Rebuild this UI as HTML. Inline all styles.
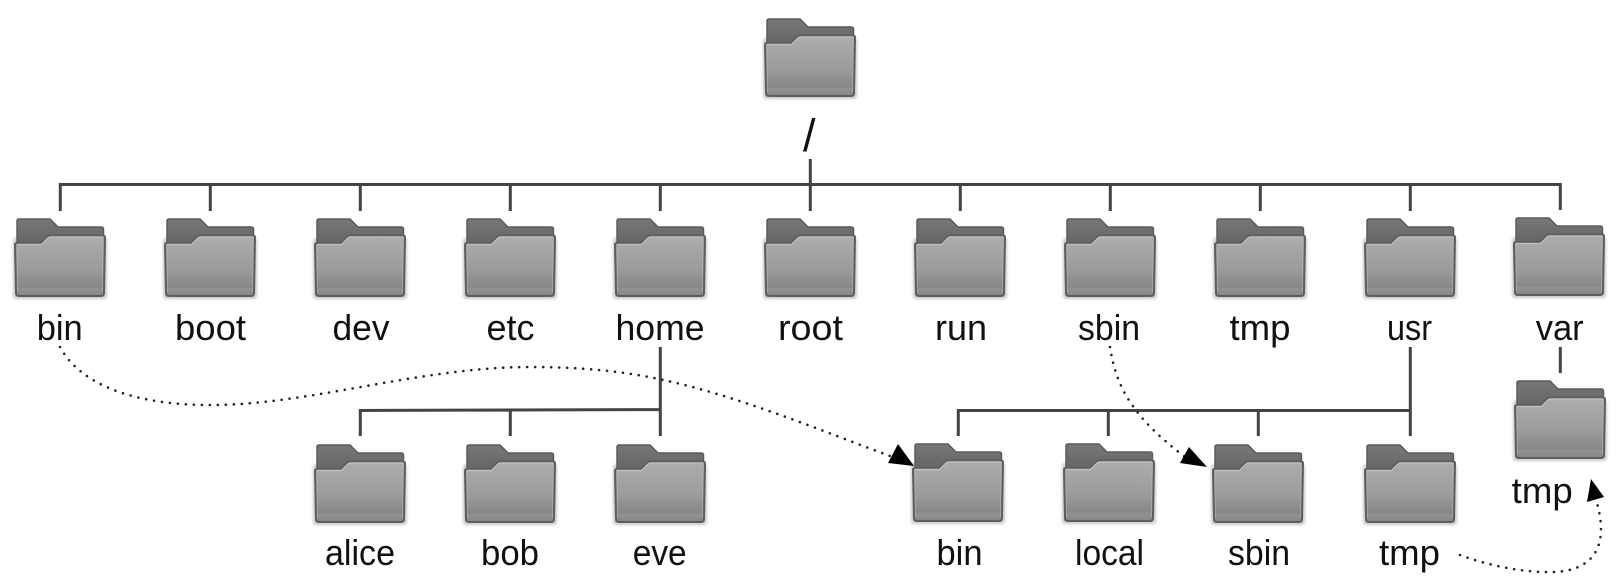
<!DOCTYPE html>
<html><head><meta charset="utf-8"><style>
html,body{margin:0;padding:0;background:#fff}
svg{display:block}
text{font-family:"Liberation Sans",sans-serif;font-size:36px;fill:#111}
</style></head><body>
<svg width="1620" height="587" viewBox="0 0 1620 587" xmlns="http://www.w3.org/2000/svg">
<defs>
<linearGradient id="b" x1="0" y1="0" x2="0" y2="1">
<stop offset="0" stop-color="#adadad"/><stop offset=".55" stop-color="#9c9c9c"/><stop offset=".85" stop-color="#888"/><stop offset=".88" stop-color="#929292"/><stop offset="1" stop-color="#868686"/>
</linearGradient>
<linearGradient id="t" x1="0" y1="0" x2="0" y2="1">
<stop offset="0" stop-color="#777"/><stop offset="1" stop-color="#626262"/>
</linearGradient>
<filter id="s" x="-10%" y="-10%" width="120%" height="120%"><feGaussianBlur stdDeviation="1.2"/></filter>
<g id="f">
<rect x="-1" y="20" width="94" height="61" rx="3" fill="#999" opacity=".5" filter="url(#s)"/>
<path d="M3 3Q3 1 5 1H36L44 9H87Q89.500 9 89.500 11V30H3Z" fill="url(#t)" stroke="#5c5c5c" stroke-width="1.500"/>
<path d="M1 27Q1 25 3 25H27L33 19Q34 17.500 36 17.500H89Q91 17.500 91 19.500L90 75Q90 78 87 78H5Q2 78 2 75Z" fill="url(#b)" stroke="#5e5e5e" stroke-width="2"/>
<path d="M3 26.500H27.500L34 20Q35 19 37 19H89" fill="none" stroke="#bdbdbd" stroke-width="1.400"/>
<path d="M3.500 29V74M88.500 22V74" fill="none" stroke="#b0b0b0" stroke-width="1" opacity=".6"/>
</g>
</defs>
<rect width="1620" height="587" fill="#fff"/>
<use href="#f" x="764" y="18"/>
<use href="#f" x="14" y="218"/><use href="#f" x="164" y="218"/><use href="#f" x="314" y="218"/><use href="#f" x="464" y="218"/><use href="#f" x="614" y="218"/><use href="#f" x="764" y="218"/><use href="#f" x="914" y="218"/><use href="#f" x="1064" y="218"/><use href="#f" x="1214" y="218"/><use href="#f" x="1364" y="218"/><use href="#f" x="1513" y="217"/>
<use href="#f" x="314" y="444"/><use href="#f" x="464" y="444"/><use href="#f" x="614" y="444"/><use href="#f" x="912" y="443"/><use href="#f" x="1063" y="443"/><use href="#f" x="1212" y="444"/><use href="#f" x="1364" y="444"/><use href="#f" x="1514" y="380"/>
<g fill="none" stroke="#444" stroke-width="3">
<path d="M60.300 211V184.500H1560.300V210M210.300 184.500V211M360.300 184.500V211M510.300 184.500V211M660.300 184.500V211M810.300 159V211M960.300 184.500V211M1110.300 184.500V211M1260.300 184.500V211M1410.300 184.500V211"/>
<path d="M660.300 347V436M360.300 436V410.500L660.300 409.500M510.300 410V436"/>
<path d="M1410.300 347V436M958.300 436V410.500H1410.300M1108.300 410.500V436M1258.300 410.500V436"/>
<path d="M1560.300 347V373"/>
</g>
<g fill="none" stroke="#222" stroke-width="2.600" stroke-linecap="round" stroke-dasharray="0 8">
<path d="M60 347C85 392 150 405 210 405C310 405 420 367 530 367C580 367 625 371 668 381C740 397 820 430 890 456"/>
<path d="M1110 347C1116 385 1130 415 1185 457"/>
<path d="M1460 555C1490 566 1525 573 1555 572C1590 570 1610 550 1597 503"/>
</g>
<path d="M898 444L888 463L914 466Z" fill="#000"/>
<path d="M1189 447L1180 463L1207 467Z" fill="#000"/>
<path d="M1591 479L1587 502L1604 497Z" fill="#000"/>
<text x="803" y="151" style="font-size:45px">/</text>
<g>
<text x="36.700" y="340" textLength="46" lengthAdjust="spacingAndGlyphs">bin</text>
<text x="175" y="340" textLength="71" lengthAdjust="spacingAndGlyphs">boot</text>
<text x="332.500" y="340" textLength="57" lengthAdjust="spacingAndGlyphs">dev</text>
<text x="486.500" y="340" textLength="48" lengthAdjust="spacingAndGlyphs">etc</text>
<text x="615.500" y="340" textLength="89" lengthAdjust="spacingAndGlyphs">home</text>
<text x="778" y="340" textLength="65" lengthAdjust="spacingAndGlyphs">root</text>
<text x="935" y="340" textLength="52" lengthAdjust="spacingAndGlyphs">run</text>
<text x="1078" y="340" textLength="62" lengthAdjust="spacingAndGlyphs">sbin</text>
<text x="1229.500" y="340" textLength="61" lengthAdjust="spacingAndGlyphs">tmp</text>
<text x="1387" y="340" textLength="45" lengthAdjust="spacingAndGlyphs">usr</text>
<text x="1535.700" y="340" textLength="48" lengthAdjust="spacingAndGlyphs">var</text>
<text x="325" y="565" textLength="70" lengthAdjust="spacingAndGlyphs">alice</text>
<text x="481" y="565" textLength="58" lengthAdjust="spacingAndGlyphs">bob</text>
<text x="632.700" y="565" textLength="54" lengthAdjust="spacingAndGlyphs">eve</text>
<text x="936.500" y="565" textLength="46" lengthAdjust="spacingAndGlyphs">bin</text>
<text x="1075" y="565" textLength="69" lengthAdjust="spacingAndGlyphs">local</text>
<text x="1228" y="565" textLength="62" lengthAdjust="spacingAndGlyphs">sbin</text>
<text x="1379" y="565" textLength="61" lengthAdjust="spacingAndGlyphs">tmp</text>
<text x="1511.700" y="503" textLength="61" lengthAdjust="spacingAndGlyphs">tmp</text>
</g>
</svg>
</body></html>
